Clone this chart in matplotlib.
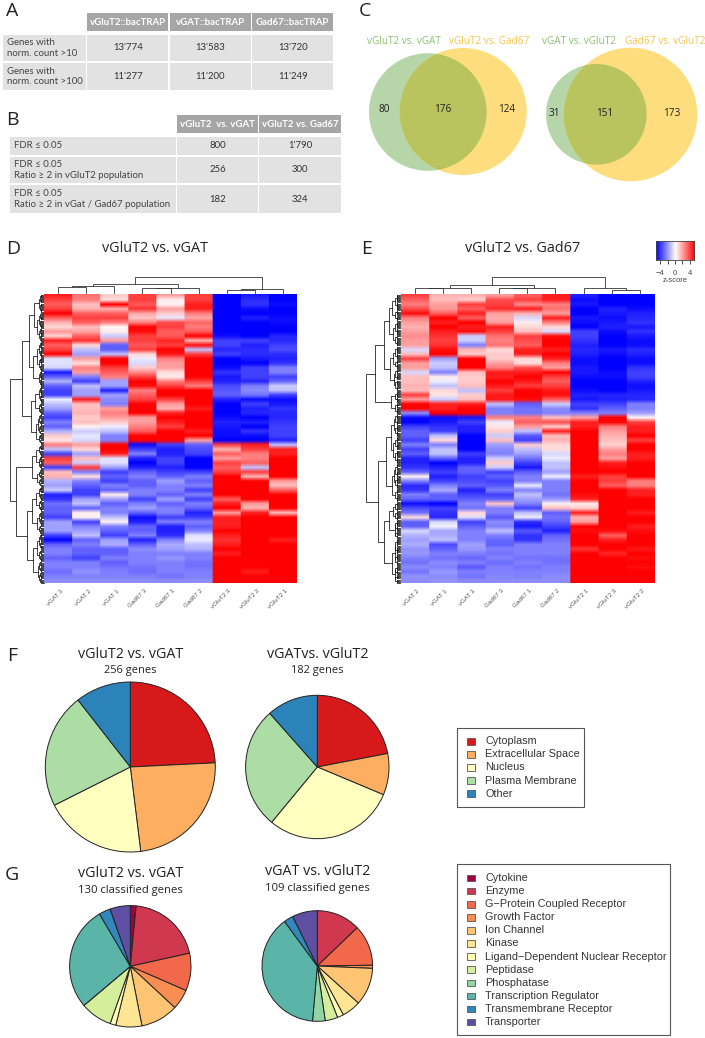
"""
Figure with the tables, venns, heatmaps and pies for the bacTRAP populations
Positions below are in pixels of the 705x1038 figure, y going down
"""
import numpy as np
import matplotlib
matplotlib.use("Agg")
import matplotlib.pyplot as plt
from matplotlib.colors import LinearSegmentedColormap
from matplotlib.patches import Circle, Rectangle

W, H = 705, 1038
TITLE_FONT = "Open Sans"
TABLE_FONT = "Lato"
PLOT_FONT = "Liberation Sans"

"""Tables"""
a_header = ["vGluT2::bacTRAP", "vGAT::bacTRAP", "Gad67::bacTRAP"]
a_rows = ["Genes with\nnorm. count >10", "Genes with\nnorm. count >100"]
a_values = [["13'774", "13'583", "13'720"], ["11'277", "11'200", "11'249"]]
b_header = ["vGluT2  vs. vGAT", "vGluT2 vs. Gad67"]
b_rows = ["FDR ≤ 0.05", "FDR ≤ 0.05\nRatio ≥ 2 in vGluT2 population",
          "FDR ≤ 0.05\nRatio ≥ 2 in vGat / Gad67 population"]
b_values = [["800", "1'790"], ["256", "300"], ["182", "324"]]

"""Venns"""
venn_left_names = ["vGluT2 vs. vGAT", "vGluT2 vs. Gad67"]
venn_left_counts = [80, 176, 124]
venn_right_names = ["vGAT vs. vGluT2", "Gad67 vs. vGluT2"]
venn_right_counts = [31, 151, 173]

"""Heatmaps: one row per band of genes, z-scores read from the picture"""
d_labels = ["vGAT 3", "vGAT 2", "vGAT 1", "Gad67 3", "Gad67 1", "Gad67 2", "vGluT2 3", "vGluT2 2", "vGluT2 1"]
d_rows = [
    [3.5, 2.2, 0.8, 3, 1.5, 3, -4, -3.6, -4],
    [3, 2, 0.5, 3, 0.3, 3, -4, -3.3, -4],
    [2.5, 1, 4, 2.6, 0.2, 3.5, -4, -3.2, -3.8],
    [3, 1.2, 1.2, 3.2, 1.5, 3.5, -4, -3.8, -4],
    [4, 2.5, 2.5, 1.4, 0.8, 2, -4, -4, -4],
    [2.5, 3, 3, 0.9, -0.4, 1.4, -4, -3.5, -3.8],
    [1.2, 2.5, 2, 2, 2.8, 2.4, -4, -4, -3.8],
    [0.6, 1, 0.1, 4, 3, 2, -4, -4, -4],
    [1.6, 1.4, 0.3, 3.8, 2.5, 2.6, -4, -4, -4],
    [0.7, 2.5, -0.8, 3, 2.6, 4, -3.8, -4, -3.4],
    [3.5, 3.2, 1.5, 3, 3.4, 1.2, -3, -3, -3.4],
    [2.5, 0.6, -2.5, 2.6, 3, 3.8, -3, -3.5, -3],
    [3, -1, -2.5, 3, 4, -1, -3.4, -3.3, -2.8],
    [4, -1.5, -1, 0.6, 3.6, 3, -3, -3.3, -3.3],
    [-0.5, 1.5, 4, -0.3, 2, 4, -4, -3.6, -3.5],
    [-0.5, 0.5, 4, -0.6, 1.5, 4, -4, -4, -3.2],
    [-0.6, 2, 3, 0.8, 1.5, 4, -3.8, -3, -2],
    [-3.6, 1.5, 2.5, 1.8, 0.5, 4, -3.2, -3, -2],
    [-2.5, -2, 2, 3, 0.3, 4, -3.6, -3, -3],
    [-1.2, -3, -1.5, 4, 2, 3, -3.5, -3.4, -2.4],
    [-2.5, -1, -1.5, 3.8, 3, 2, -2.8, -2, -0.8],
    [-3, -1.5, -3.5, 2, 4, 4, -2.6, -1.8, -1],
    [-3, -1.5, -1.5, 2.5, 4, 4, -2.5, -2.2, -3],
    [-0.3, 3.5, -1.8, 3, 3, 4, -3.5, -3.8, -3.8],
    [-1, 1, -2, 4, 1.5, 4, -4, -3, -3.6],
    [-1.5, 1, 1.5, 4, 1.2, 3.5, -4, -3.5, -3.2],
    [-2.5, 1.2, 2, 4, 3.5, 4, -4, -3.4, -3.4],
    [-3, 0.8, 1.5, 1.5, 4, 4, -3.8, -4, -3.4],
    [-2, 1, 0.8, 1.5, 3.5, 4, -3.5, -3.5, -3.2],
    [-2.5, 0.2, -0.3, 2, 3, 4, -3.6, -4, -3],
    [-1.2, -0.8, -1, 2.5, 4, 3.5, -3.8, -3.2, -3],
    [0.8, -0.4, -2, 4, 4, 4, -3.8, -3.8, -3],
    [0.4, -0.6, -2, 4, 4, 1.5, -4, -4, -3.5],
    [2, 1.5, 4, -3.8, -3, -2.5, 3, 3.5, -1],
    [-1, 0.6, 4, -3, -3.5, -2.8, 1.2, 3, 3.5],
    [-3, -1.5, 3.5, -2, -3.5, -3, 2.5, 2, 3.5],
    [3, 1, -0.5, -3.5, -3, -4, 1.5, 2, 4],
    [2.5, -0.8, -0.5, -4, -3, -4, 3, 2.5, 4],
    [-3, 3, -1.5, -3.5, -3.5, -4, 2.5, -1, 4],
    [1, -2, -3, -2.5, -3, -3, 3, 3, 4],
    [1.2, 0.5, -2.5, -2, -2.5, -2, 4, 1.2, 4],
    [-1.2, -2, -3, -2.5, -1.5, -2.5, 4, 4, 1.5],
    [-1.5, -2.5, -2, -2.5, -2, -2, 4, 4, 1],
    [-0.8, -3, -2.5, -2, -2, -3, 4, 4, 2.5],
    [-3.5, -3, 0.3, -2, -2.5, -2, 4, 4, 4],
    [-3.2, -1.5, -1.5, -3, -1.5, -3, 2.5, 4, 4],
    [-2.2, -1, -2.5, -2, -2.5, -2, 3.5, 1.5, 4],
    [-2.5, -2.5, -2, -1.5, -2, -2.5, 4, 1.2, 4],
    [-2.5, 0.3, -2, -2.5, -2, -3.5, 1.5, 3.5, 1],
    [-3, 0.2, -1, -3.8, -3, -3, 3.5, 4, 4],
    [-1.5, -3, 0.2, -3.5, -2, -2, 3.5, 4, 4],
    [-1.5, -2, -2, -2.5, -3.5, -2.5, 3.5, 4, 4],
    [-1.5, -1.5, -2.5, -2.5, -3.5, -2, 4, 4, 4],
    [-3, -1, -3, -2, -3.3, -0.5, 3.5, 4, 4],
    [-4, -2.5, -1.5, -3.5, -2, -0.3, 3.2, 4, 3.5],
    [-2.5, -2, -1.3, -2.5, -1.3, -1, 3.5, 4, 4],
    [-2, -2.5, -2.5, -1.8, -1.5, -1.2, 4, 4, 4],
    [-2, -2.5, -2.5, -2, -2, -2, 3.5, 4, 4],
    [-2.5, -3, -2, -2, -1.6, -2, 4, 4, 4],
    [-2, -2, -2.5, -2, -2, -2.2, 4, 4, 4],
    [-2, -2, -2.2, -2.2, -2, -2.2, 4, 4, 4],
    [-2.3, -1.7, -2, -2.3, -2, -2, 4, 3.5, 4],
    [-2, -2, -2, -2, -2.2, -2, 4, 4, 4],
    [-1.8, -1.8, -1.8, -1.8, -1.8, -1.8, 4, 4, 4],
]
e_labels = ["vGAT 2", "vGAT 1", "vGAT 3", "Gad67 3", "Gad67 1", "Gad67 2", "vGluT2 1", "vGluT2 3", "vGluT2 2"]
e_rows = [
    [3, 1.2, 1.2, 1.5, 2.5, 3.5, -3.5, -4, -4],
    [2.5, 1, 0.8, 2.8, 3, 3.5, -3.8, -4, -4],
    [2, 1.5, 3, 3, 1.8, 2, -3.6, -4, -4],
    [2.8, 1.6, 2.5, 3.3, 3.5, 2.2, -4, -3.5, -3.8],
    [3.8, 2.5, 3.5, 1.5, 1.2, 1.5, -4, -3.6, -3.5],
    [2, 4, 2.5, 1.3, -0.6, 3.5, -3.6, -3.8, -3.4],
    [1.5, 3.5, 4, 1.5, 0.3, 2, -3.8, -3.6, -3.2],
    [1.2, 4, 3.5, 3.5, 0.6, 0.6, -4, -3.5, -3.6],
    [1.5, 3.5, 3.8, 3, 1, -0.6, -3, -3.8, -3.2],
    [1.8, 3.2, -0.8, 2.2, 3, 3.8, -3, -4, -3.6],
    [1.5, 3, -0.8, 2, 2.8, 4, -3.2, -4, -3.8],
    [1.5, 3.2, -2, 2.2, 2.5, 4, -3.5, -4, -3.8],
    [-0.6, 3.8, 1.2, 0.6, 3.5, 3.5, -3.4, -3.6, -3.3],
    [1, 4, 0.8, 0.8, 3.5, 4, -3.5, -3.8, -3.5],
    [3, -1.5, 4, 0.8, 0.6, 3.5, -3.8, -4, -3.8],
    [1.5, -0.8, 4, 1.5, 0.5, 2, -3.8, -4, -3.8],
    [1.5, -1, 4, 2, 2.8, 1.5, -3.6, -4, -3.2],
    [-0.6, -2, 1, 3.6, 3.5, 4, -3.6, -3.8, -3],
    [1, 0.3, 0.8, 3.5, 4, 3, -3.8, -3.8, -3],
    [1, -0.3, 0.8, 4, 3.6, 2.5, -4, -4, -3.5],
    [1.2, -1, 1, 3.6, 3, 3, -4, -4, -3.8],
    [1, 0.6, -1, 3, 4, 3.6, -3.8, -4, -3.6],
    [3, 0.4, 0.8, 3.6, 4, 3.8, -3.5, -3.4, -3.4],
    [1.5, -0.8, 1, 3.6, 3.8, 2.5, -3.6, -3.5, -3.4],
    [4, 3.5, 3.5, -1, -2.5, -0.8, -3, -3, -2],
    [4, 3.5, 4, -2, -2.2, -1.8, -3.2, -2.5, -2],
    [-1.8, 4, 4, -2, -2.2, -2, -2, -2, -1.5],
    [-3.8, -3.8, -3.6, 2, 2, 1, 1.5, 4, 0.2],
    [-4, -3.6, -3, -0.3, 2.5, 2.8, 3.5, 4, 3],
    [-3, -3.2, -3.5, 0.4, 1.5, 0.8, 3.5, 2, 3.5],
    [-2.5, -3, -3.5, 0.8, -1, 3.5, 4, 1.5, 3.5],
    [-2.5, -1, -4, -0.8, -2.6, 1, 4, 1.2, 4],
    [-3, 0.6, -4, 1, -3, 1.2, 4, 1, 3],
    [-2, -2, -4, -1.5, 0.8, 0.6, 4, 0.7, 4],
    [-3, -1, -4, -1.8, -1, 0.5, 4, 1.5, 4],
    [-2.5, -1, -3, -2, -1.5, -0.6, 4, 2, 3.5],
    [-3.5, -2.5, -3.5, -0.8, -2.2, -0.3, 4, 1.5, 3.5],
    [-3.5, -4, -3.5, 0.8, -3, -1, 4, 3.5, 4],
    [-3.2, -3.5, -2.5, -0.8, -3.6, -1, 4, 3.8, 4],
    [-2.5, -3, -2.5, -3, -2.5, -1.5, 4, 4, 4],
    [0.2, -3.5, -3, -2.5, -2, -0.3, 3.5, 3, 4],
    [-2, -3, -2.8, -3, -2, -2, 4, 3, 2],
    [-3.3, -2, -2.5, -2.6, -0.4, -2, 4, 2.5, 2],
    [-3.2, -1.3, -3.5, -2, -2, -2, 4, 4, 3.5],
    [-2, -2.5, -3, -3, -1, -2.2, 3.8, 4, 3.5],
    [-2.5, -2.5, -2.5, -2.5, -1.5, -1.6, 3.5, 4, 4],
    [-3.8, -4, -2, 0.9, -2, 0.2, 0.3, 4, 4],
    [-2.8, -3, -2.2, -2, -3, 1, 0.8, 4, 4],
    [-2.2, -3.2, 0.6, -2, -1, -2.5, 3.5, 4, 3.5],
    [0.5, -3.4, -0.5, -2.6, -0.3, -2.2, 1.2, 4, 4],
    [-2.5, -0.6, -3, -1.8, -3.3, -2.5, 1.5, 4, 4],
    [-2.5, -0.2, -2.5, -2, -3.6, -3, 4, 4, 3.5],
    [-0.6, -1.4, -2, -1, -2.6, -3.5, 3.8, 3.8, 3.8],
    [-1.2, -1.3, -2, -2, -3.2, -2.5, 4, 2.5, 4],
    [-1.5, -1, -2, -2.4, -3.2, -2.2, 4, 3.5, 4],
    [-1.3, -2.8, -1.5, -2.5, -2, -2, 4, 4, 4],
    [-1.7, -2.5, -1.6, -2, -2, -2, 3.2, 4, 3.6],
    [-1.6, -2, -2, -2.2, -2, -2, 4, 3.4, 4],
    [-2, -2.2, -2.4, -2, -2.2, -2.2, 4, 4, 3.8],
    [-2.2, -1.8, -2, -2.3, -2, -2.2, 4, 4, 4],
    [-1.8, -2, -2.6, -2, -2.2, -2, 4, 4, 3.8],
    [-2.2, -1.6, -2, -2, -2, -2, 4, 4, 4],
    [-1.7, -1.8, -2.2, -1.9, -2, -1.8, 4, 4, 4],
    [-1.8, -1.7, -1.8, -1.8, -1.8, -1.8, 4, 4, 4],
]

"""Dendrograms: [height, left, right], ints are columns or, for rows, gene counts"""
d_col_tree = [15.7, [9, [6.7, [5.7, 0, 1], 2], [5, [4.7, 3, 4], 5]], [4.3, [3.3, 6, 7], 8]]
e_col_tree = [15.7, [8, [5.3, [4.7, 0, 1], 2], [5.3, [4.7, 3, 4], 5]], [4.7, 6, [3.3, 7, 8]]]
d_row_tree = [34,
              [22, [15, [10, 16, [7, 14, 12]], [11, [7, 14, 12], 14]],
               [13, [9, 14, 10], [8, [5.5, 10, 8], 9]]],
              [28, [12, [8, 10, 12], [7, 8, 7]],
               [17, [12, [8, 12, 10], [7, 12, 8]], [11, [7, 14, 10], [6, 10, 10]]]]]
e_row_tree = [34,
              [25, [16, [11, [8, 14, 10], [7, 12, 10]], [10, [7, 12, 8], [6, 10, 10]]], [9, 10, 10]],
              [22, [14, [9, [6, 10, 10], [7, 12, 12]], [8, [6, 12, 10], 12]],
               [16, [11, [7, 8, 8], [5.5, 10, 6]], [8, [5.5, 14, 10], [5.5, 8, 8]]]]]

"""Pies"""
loc_names = ["Cytoplasm", "Extracellular Space", "Nucleus", "Plasma Membrane", "Other"]
loc_colors = ["#D7191C", "#FDAE61", "#FFFFBF", "#ABDDA4", "#2B83BA"]
loc_vglut = [62, 61, 50, 56, 27]
loc_vgat = [40, 17, 54, 50, 21]
type_names = ["Cytokine", "Enzyme", "G\u2212Protein Coupled Receptor", "Growth Factor", "Ion Channel",
              "Kinase", "Ligand\u2212Dependent Nuclear Receptor", "Peptidase", "Phosphatase",
              "Transcription Regulator", "Transmembrane Receptor", "Transporter"]
type_colors = ["#9E0142", "#D0384F", "#F2684A", "#F98E52", "#FDC474", "#FEE593",
               "#FFFFB5", "#D5EE9B", "#92D5A4", "#5AB4A8", "#3288BD", "#5E4FA2"]
type_vglut = [2, 26, 13, 7, 13, 9, 2, 11, 0, 36, 4, 7]
type_vgat = [0, 14, 13, 1, 12, 6, 2, 4, 4, 42, 3, 8]

fig = plt.figure(figsize=(W / 100, H / 100), dpi=100)
page = fig.add_axes([0, 0, 1, 1])
page.set_xlim(0, W)
page.set_ylim(H, 0)
page.axis("off")


def px_axes(x0, y0, x1, y1):
    return fig.add_axes([x0 / W, 1 - y1 / H, (x1 - x0) / W, (y1 - y0) / H])


def label(x, y, s, size, font=TITLE_FONT, color="#222222", ha="center", **kw):
    page.text(x, y, s, fontsize=size, family=font, color=color, ha=ha, va="center", **kw)


def cell(x0, y0, x1, y1, color):
    page.add_patch(Rectangle((x0, y0), x1 - x0, y1 - y0, facecolor=color, edgecolor="none"))


def draw_table(header, rows, values, col_edges, row_edges, head_y, row_x):
    for (x0, x1), s in zip(col_edges, header):
        cell(x0, head_y[0], x1, head_y[1], "#A6A6A6")
        label((x0 + x1) / 2, sum(head_y) / 2, s, 6.9, TABLE_FONT, "white", fontweight="bold")
    for (y0, y1), name, vals in zip(row_edges, rows, values):
        cell(row_x[0], y0, row_x[1], y1, "#E2E2E2")
        label(row_x[0] + 4, (y0 + y1) / 2, name, 6.9, TABLE_FONT, "#444444", ha="left", linespacing=1.15)
        for (x0, x1), v in zip(col_edges, vals):
            cell(x0, y0, x1, y1, "#E2E2E2")
            label((x0 + x1) / 2, (y0 + y1) / 2, v, 6.9, TABLE_FONT, "#333333")


def draw_venn(c1, r1, c2, r2):
    left = Circle(c1, r1, facecolor="#B6D5A8", edgecolor="none")
    right = Circle(c2, r2, facecolor="#FEDD7E", edgecolor="none")
    page.add_patch(left)
    page.add_patch(right)
    both = Circle(c1, r1, facecolor="#B9C45F", edgecolor="none")
    page.add_patch(both)
    both.set_clip_path(Circle(c2, r2, transform=page.transData))


def col_tree(node, centers, base, segs):
    if isinstance(node, int):
        return centers[node], 0
    h, a, b = node
    xa, ha = col_tree(a, centers, base, segs)
    xb, hb = col_tree(b, centers, base, segs)
    segs.append(([xa, xa, xb, xb], [base - ha, base - h, base - h, base - hb]))
    return (xa + xb) / 2, h


def rake(n, top, dy, edge, h, segs):
    # a band of genes, split in halves until the single rows at the edge
    if n == 1:
        return top + dy / 2, 0
    n1 = n // 2
    ya, ha = rake(n1, top, dy, edge, h * 0.72, segs)
    yb, hb = rake(n - n1, top + n1 * dy, dy, edge, h * 0.72, segs)
    h = max(h, 3.2)
    segs.append(([edge - ha, edge - h, edge - h, edge - hb], [ya, ya, yb, yb]))
    return (ya + yb) / 2, h


def row_tree(node, top, dy, edge, segs):
    if isinstance(node, int):
        y, h = rake(node, top, dy, edge, 5, segs)
        return y, h, node
    h, a, b = node
    ya, ha, na = row_tree(a, top, dy, edge, segs)
    yb, hb, nb = row_tree(b, top + na * dy, dy, edge, segs)
    segs.append(([edge - ha, edge - h, edge - h, edge - hb], [ya, ya, yb, yb]))
    return (ya + yb) / 2, h, na + nb


def draw_heatmap(rows, names, ctree, rtree, x0, x1, y0=294, y1=583.5):
    ax = px_axes(x0, y0, x1, y1)
    # columns repeated so the smoothing only softens the rows
    ax.imshow(np.repeat(np.array(rows), 28, axis=1), cmap=zcmap, vmin=-4, vmax=4,
              aspect="auto", interpolation="bilinear")
    ax.axis("off")
    step = (x1 - x0) / len(names)
    centers = [x0 + step * (i + 0.5) for i in range(len(names))]
    segs = []
    col_tree(ctree, centers, y0 - 1, segs)
    for xs, ys in segs:
        page.plot(xs, ys, color="#333333", lw=0.6, solid_joinstyle="miter")
    segs = []
    row_tree(rtree, y0, (y1 - y0) / 256, x0 - 0.5, segs)
    for xs, ys in segs:
        page.plot(xs, ys, color="#111111", lw=0.55, solid_joinstyle="miter")
    for c, s in zip(centers, names):
        page.text(c + 2, y1 + 5, s, fontsize=4.5, family=PLOT_FONT, color="#555555",
                  rotation=45, ha="right", va="top", rotation_mode="anchor")


def draw_pie(values, colors, cx, cy, r):
    ax = px_axes(cx - r - 1, cy - r - 1, cx + r + 1, cy + r + 1)
    ax.pie(values, colors=colors, startangle=90, counterclock=False, radius=r / (r + 1),
           wedgeprops=dict(edgecolor="#222222", linewidth=0.7))
    ax.set_xlim(-1, 1)
    ax.set_ylim(-1, 1)


def draw_legend(names, colors, x0, y0, x1, y1, first):
    page.add_patch(Rectangle((x0, y0), x1 - x0, y1 - y0, facecolor="white", edgecolor="#555555", lw=0.8))
    for i, (s, c) in enumerate(zip(names, colors)):
        y = first + i * 13.1
        page.add_patch(Rectangle((x0 + 9.7, y - 3.3), 8.6, 6.6, facecolor=c, edgecolor="#555555", lw=0.6))
        label(485, y, s, 7.85, PLOT_FONT, "#333333", ha="left")


zcmap = LinearSegmentedColormap.from_list("z", ["#0000FF", "#FFFFFF", "#FF0000"])

"""A, B"""
label(12, 11, "A", 14, ha="center")
draw_table(a_header, a_rows, a_values, [(87.3, 168.3), (170, 250.7), (252.3, 333.3)],
           [(35, 61), (62.7, 90)], (13.3, 31.3), (2.7, 86))
label(12, 120, "B", 14, ha="center")
draw_table(b_header, b_rows, b_values, [(177, 258), (259.3, 340.7)],
           [(137, 155), (156.7, 183.3), (185.3, 212.7)], (115, 133.3), (9.7, 175.7))

"""C"""
label(365, 11, "C", 14)
draw_venn((427.8, 112), 58.8, (463.2, 111.5), 63.5)
draw_venn((596.3, 114.3), 50.3, (630.5, 114.5), 66.8)
for x, s, c in zip([404, 488.8], venn_left_names, ["#8DBF6E", "#F7C44A"]):
    label(x, 41, s, 7.2, color=c)
for x, s, c in zip([579, 664.7], venn_right_names, ["#8DBF6E", "#F7C44A"]):
    label(x, 41, s, 7.2, color=c)
for x, v in zip([384, 443, 507], venn_left_counts):
    label(x, 110, str(v), 7.2)
for x, v in zip([554.7, 605, 672], venn_right_counts):
    label(x, 113, str(v), 7.2)

"""D, E"""
label(13, 249, "D", 14)
label(155, 249, "vGluT2 vs. vGAT", 10.4)
draw_heatmap(d_rows, d_labels, d_col_tree, d_row_tree, 44.3, 296.7)
label(367, 249, "E", 14)
label(522.7, 249, "vGluT2 vs. Gad67", 10.4)
draw_heatmap(e_rows, e_labels, e_col_tree, e_row_tree, 400.7, 654)

key = px_axes(655.7, 241.3, 694.3, 260)
key.imshow(np.linspace(-4, 4, 128)[None, :], cmap=zcmap, aspect="auto", extent=[-5.2, 5.2, 0, 1], vmin=-4, vmax=4)
key.set_xticks([-4, -2, 0, 2, 4], ["\u22124", "", "0", "", "4"], fontsize=5.5, family=PLOT_FONT, color="#444444")
key.set_yticks([])
key.tick_params(axis="x", length=3.2, width=0.6, pad=4, color="#333333")
for s in key.spines.values():
    s.set_linewidth(0.6)
    s.set_color("#444444")
label(675, 281, "z-score", 5.5, PLOT_FONT, "#444444")

"""F, G"""
label(12, 656, "F", 14)
label(130.3, 654, "vGluT2 vs. vGAT", 10.3)
label(130.3, 670, "256 genes", 7.9)
draw_pie(loc_vglut, loc_colors, 130.3, 767, 85)
label(317.7, 654, "vGATvs. vGluT2", 10.3)
label(317.7, 670, "182 genes", 7.9)
draw_pie(loc_vgat, loc_colors, 317.3, 767, 71.7)
draw_legend(loc_names, loc_colors, 457, 728, 583.7, 806.7, 741.3)

label(12, 875, "G", 14)
label(130.3, 873.3, "vGluT2 vs. vGAT", 10.3)
label(130.3, 890, "130 classified genes", 8.1)
draw_pie(type_vglut, type_colors, 130.3, 966.3, 60.7)
label(317.7, 871.5, "vGAT vs. vGluT2", 10.3)
label(317.7, 888, "109 classified genes", 8.1)
draw_pie(type_vgat, type_colors, 317.3, 966, 55.3)
draw_legend(type_names, type_colors, 457, 864.3, 669.7, 1034.7, 878)

page.set_xlim(0, W)
page.set_ylim(H, 0)
fig.savefig("out.png", dpi=100)
